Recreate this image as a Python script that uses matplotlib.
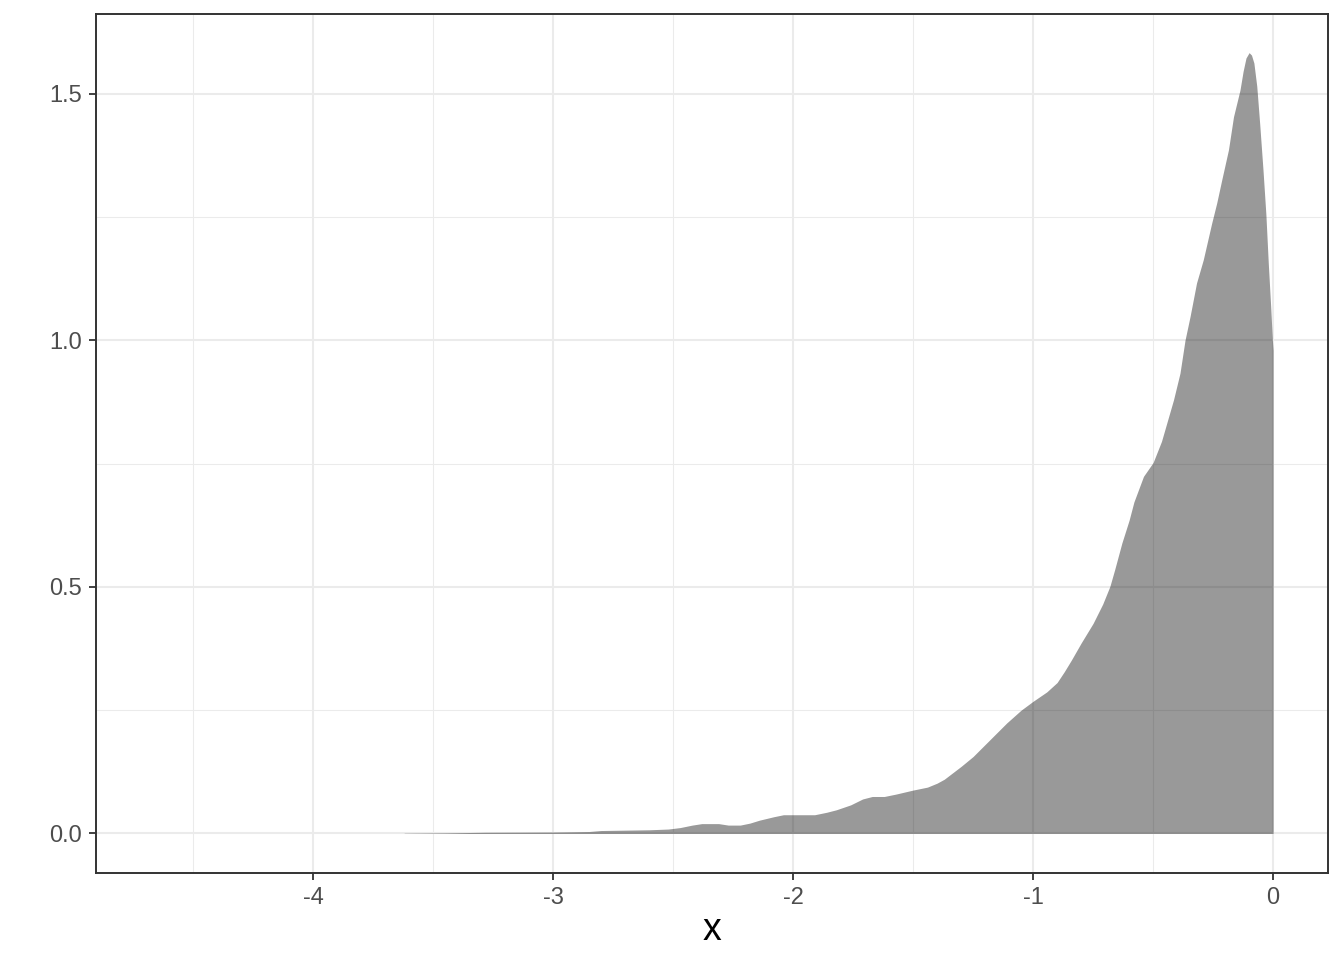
import matplotlib
matplotlib.use("Agg")
import matplotlib.pyplot as plt
import numpy as np

# density curve (x, density)
xs = [-3.62, -3.45, -3.28, -3.0, -2.85, -2.80, -2.6, -2.52, -2.47, -2.42,
      -2.38, -2.31, -2.27, -2.22, -2.18, -2.14, -2.08, -2.04, -1.95, -1.91,
      -1.86, -1.82, -1.76, -1.71, -1.67, -1.62, -1.57, -1.5, -1.44, -1.40,
      -1.37, -1.30, -1.25, -1.18, -1.11, -1.05, -1.0, -0.943, -0.90, -0.87,
      -0.84, -0.80, -0.75, -0.71, -0.68, -0.66, -0.63, -0.60, -0.58, -0.54,
      -0.50, -0.465, -0.443, -0.415, -0.388, -0.367, -0.346, -0.319, -0.291, -0.256,
      -0.235, -0.214, -0.186, -0.165, -0.138, -0.125, -0.113, -0.10, -0.09, -0.08,
      -0.068, -0.056, -0.042, -0.030, -0.020, -0.010, -0.003, 0.0]
dens = [0.0005, 0.0012, 0.0025, 0.003, 0.004, 0.006, 0.0075, 0.009, 0.012, 0.017,
        0.020, 0.020, 0.017, 0.017, 0.021, 0.027, 0.034, 0.038, 0.038, 0.038,
        0.043, 0.048, 0.058, 0.070, 0.075, 0.075, 0.080, 0.088, 0.094, 0.102,
        0.110, 0.136, 0.156, 0.190, 0.224, 0.250, 0.268, 0.287, 0.306, 0.328,
        0.352, 0.386, 0.426, 0.465, 0.501, 0.535, 0.589, 0.635, 0.672, 0.724,
        0.752, 0.795, 0.832, 0.879, 0.933, 1.0, 1.048, 1.116, 1.163, 1.237,
        1.278, 1.325, 1.386, 1.453, 1.507, 1.545, 1.572, 1.583, 1.578, 1.562,
        1.515, 1.440, 1.345, 1.255, 1.156, 1.068, 1.0, 0.98]

x_ticks = [-4, -3, -2, -1, 0]
y_ticks = [0.0, 0.5, 1.0, 1.5]

plt.rcParams['font.family'] = ['Liberation Sans', 'DejaVu Sans']
plt.rcParams['axes.unicode_minus'] = False

fig = plt.figure(figsize=(13.44, 9.6), dpi=100)
ax = fig.add_axes([96 / 1344, 1 - 872.7 / 960, (1328.3 - 96) / 1344, (872.7 - 14.3) / 960])

ax.fill_between(xs, 0, dens, color="black", alpha=0.4, linewidth=0, zorder=2)

ax.set_xlim(-4.904, 0.230)
ax.set_ylim(-0.0795, 1.6607)

ax.set_xticks(x_ticks)
ax.set_xticklabels([str(v) for v in x_ticks])
ax.set_yticks(y_ticks)
ax.set_yticklabels(["%.1f" % v for v in y_ticks])
ax.set_xticks(np.arange(-4.5, 0, 1.0), minor=True)
ax.set_yticks([0.25, 0.75, 1.25], minor=True)

ax.grid(True, which="major", color="#EBEBEB", linewidth=1.45, zorder=0)
ax.grid(True, which="minor", color="#EBEBEB", linewidth=0.75, zorder=0)
ax.set_axisbelow(True)

ax.tick_params(which="major", length=5.3, width=1.3, color="#333333",
               labelcolor="#4D4D4D", labelsize=17, pad=5)
ax.tick_params(which="minor", length=0)
for s in ax.spines.values():
    s.set_color("#333333")
    s.set_linewidth(1.4)

ax.set_xlabel("x", fontsize=27, color="black", labelpad=2)

fig.savefig("out.png", dpi=100, facecolor="white")
